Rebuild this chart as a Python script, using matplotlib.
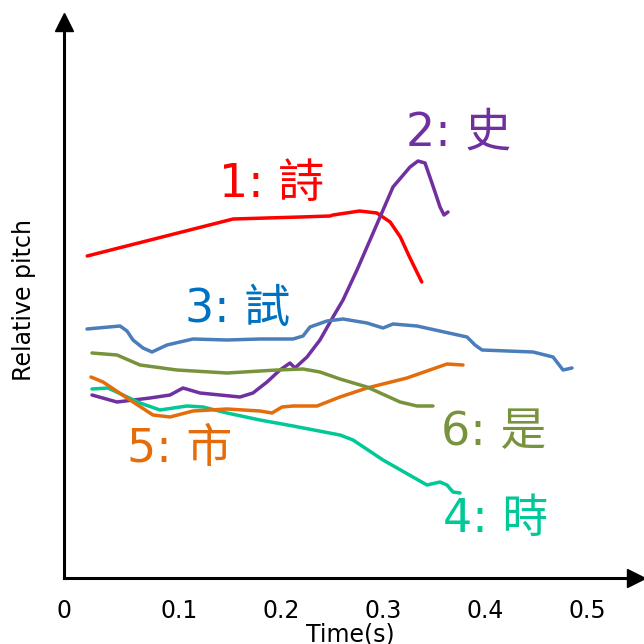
import numpy as np
import matplotlib.pyplot as plt

plt.rcParams['font.family'] = ['DejaVu Sans', 'Noto Sans CJK TC']

# tone contours (time in s, relative pitch in arbitrary units)
t1 = [0.010, 0.153, 0.219, 0.248, 0.251, 0.277, 0.294, 0.307, 0.317, 0.326, 0.338]
p1 = [3.22, 3.59, 3.61, 3.62, 3.63, 3.67, 3.65, 3.56, 3.41, 3.21, 2.96]

t2 = [0.0147, 0.0392, 0.0716, 0.0912, 0.1039, 0.1206, 0.1598, 0.1725, 0.1863, 0.1990,
      0.2088, 0.2137, 0.2255, 0.2382, 0.2510, 0.2608, 0.2745, 0.2873, 0.2971, 0.3098,
      0.3265, 0.3343, 0.3412, 0.3480, 0.3559, 0.3598, 0.3637]
p2 = [1.83, 1.76, 1.80, 1.83, 1.90, 1.85, 1.81, 1.85, 1.96, 2.08,
      2.15, 2.10, 2.21, 2.38, 2.61, 2.78, 3.08, 3.38, 3.61, 3.91,
      4.11, 4.17, 4.15, 3.95, 3.71, 3.63, 3.66]

t3 = [0.0098, 0.0422, 0.0490, 0.0549, 0.0647, 0.0735, 0.0882, 0.1137, 0.1471, 0.1794,
      0.2118, 0.2216, 0.2284, 0.2451, 0.2608, 0.2843, 0.3000, 0.3098, 0.3333, 0.3824,
      0.3902, 0.3971, 0.4471, 0.4667, 0.4765, 0.4853]
p3 = [2.49, 2.52, 2.47, 2.38, 2.30, 2.26, 2.33, 2.39, 2.38, 2.39,
      2.39, 2.42, 2.51, 2.57, 2.59, 2.55, 2.50, 2.54, 2.52, 2.41,
      2.33, 2.28, 2.26, 2.21, 2.08, 2.10]

t4 = [0.0147, 0.0304, 0.0451, 0.0618, 0.0814, 0.1078, 0.1235, 0.1471, 0.1794, 0.2118,
      0.2578, 0.2706, 0.3000, 0.3431, 0.3559, 0.3627, 0.3686, 0.3755]
p4 = [1.89, 1.90, 1.83, 1.75, 1.68, 1.72, 1.71, 1.65, 1.58, 1.52,
      1.43, 1.38, 1.18, 0.93, 0.96, 0.93, 0.86, 0.85]

t5 = [0.0137, 0.0255, 0.0373, 0.0490, 0.0745, 0.0912, 0.1137, 0.1471, 0.1794, 0.1912,
      0.2010, 0.2118, 0.2353, 0.2578, 0.2843, 0.3235, 0.3431, 0.3627, 0.3784]
p5 = [2.01, 1.96, 1.88, 1.80, 1.63, 1.61, 1.67, 1.69, 1.67, 1.65,
      1.71, 1.72, 1.72, 1.81, 1.90, 2.00, 2.07, 2.14, 2.13]

t6 = [0.0147, 0.0392, 0.0618, 0.0980, 0.1471, 0.1961, 0.2216, 0.2382, 0.2578, 0.2843,
      0.3167, 0.3333, 0.3490]
p6 = [2.25, 2.23, 2.13, 2.08, 2.05, 2.08, 2.09, 2.06, 1.99, 1.91,
      1.76, 1.72, 1.72]

labels = ['1: 詩', '2: 史', '3: 試', '4: 時', '5: 市', '6: 是']
xticks = [0.1, 0.2, 0.3, 0.4, 0.5]

series = [(t1, p1), (t2, p2), (t3, p3), (t4, p4), (t5, p5), (t6, p6)]
line_colors = ['#ff0000', '#7030a0', '#4a7ebb', '#00c896', '#e46c0a', '#77933c']
text_colors = ['#ff0000', '#7030a0', '#0070c0', '#00c896', '#e46c0a', '#77933c']
label_pos = [(0.191, 3.93), (0.374, 4.45), (0.157, 2.68), (0.41, 0.58), (0.101, 1.28), (0.408, 1.45)]

fig = plt.figure(figsize=(6.44, 6.44), dpi=100)
ax = fig.add_axes([64 / 644, 66 / 644, 572 / 644, 556 / 644])

for (t, p), c in zip(series, line_colors):
    ax.plot(t, p, color=c, lw=2.5, solid_capstyle='round', solid_joinstyle='round')

for lab, (x, y), c in zip(labels, label_pos, text_colors):
    ax.text(x, y, lab, color=c, fontsize=33, ha='center', va='center')

x0 = -13 / 1020
ax.set_xlim(x0, (636 - 77) / 1020)
ax.set_ylim(0, 5.56)
ax.set_xticks([x0] + xticks)
ax.set_xticklabels(['0'] + [str(v) for v in xticks], fontsize=17)
ax.tick_params(axis='x', length=0, pad=15)
ax.set_yticks([])
ax.spines['top'].set_visible(False)
ax.spines['right'].set_visible(False)
ax.spines['left'].set_linewidth(2.2)
ax.spines['bottom'].set_linewidth(2.2)
ax.plot(1, 0, '>', color='black', ms=13, transform=ax.transAxes, clip_on=False)
ax.plot(0, 1, '^', color='black', ms=13, transform=ax.transAxes, clip_on=False)
ax.set_xlabel('Time(s)', fontsize=17, labelpad=0)
ax.set_ylabel('Relative pitch', fontsize=17, labelpad=20)

plt.savefig('out.png', dpi=100)
